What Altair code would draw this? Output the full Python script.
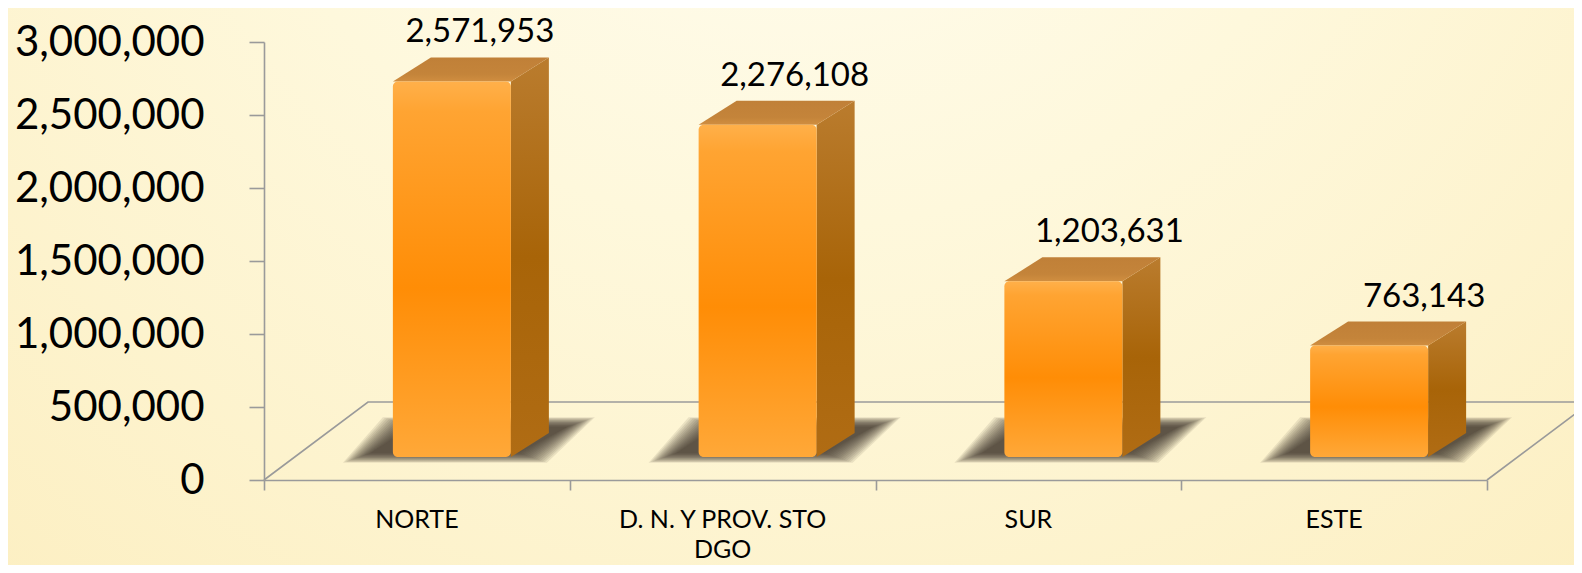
import altair as alt
import pandas as pd

# ---------------- data ----------------
categories = ["NORTE", "D. N. Y PROV. STO\nDGO", "SUR", "ESTE"]
values = [2571953, 2276108, 1203631, 763143]
y_ticks = [0, 500000, 1000000, 1500000, 2000000, 2500000, 3000000]

# ---------------- layout / style constants ----------------
W, H = 1223, 438
YMAX = 3000000
PX_X = W / 4.0
PX_Y = H / YMAX


def ux(px):
    return px / PX_X


def uy(px):
    return px / PX_Y


OFF = ux(35)      # front face centre shift (perspective)
HW = ux(59)       # half width of front face
DX = ux(38)       # bar depth in x
DY = uy(24)       # bar depth in y
BASE = uy(23)     # front face bottom above floor front edge
FLOOR_DX = ux(104)
FLOOR_DY = uy(78)
FONT = "Lato"
AXIS_COLOR = "#9A9A9A"

xs = alt.Scale(domain=[0, 4], nice=False, zero=False)
ys = alt.Scale(domain=[0, YMAX], nice=False)

x_axis = alt.Axis(values=[0, 1, 2, 3, 4], labels=False, tickSize=10, grid=False, title=None,
                  domainColor=AXIS_COLOR, tickColor=AXIS_COLOR, domainWidth=1.6,
                  tickWidth=1.6, zindex=1)
y_axis = alt.Axis(values=y_ticks, format=",d", labelFont=FONT, labelFontSize=42,
                  labelColor="#000000", labelLimit=0, tickSize=15, labelPadding=45,
                  grid=False, title=None,
                  domainColor=AXIS_COLOR, tickColor=AXIS_COLOR, domainWidth=1.6,
                  tickWidth=1.6, zindex=1)

# front faces
front = pd.DataFrame({
    "name": categories,
    "idx": list(range(len(categories))),
    "value": values,
})
front["xc"] = front["idx"] + 0.5 + OFF
front["xl"] = front["xc"] - HW
front["xr"] = front["xc"] + HW
front["y0"] = BASE
front["y1"] = BASE + front["value"]
front["lx"] = front["xc"] + front["idx"].apply(lambda i: ux(28 + 9 * i))
front["ly"] = front["y1"] + DY
front["bx"] = front["idx"] + 0.5

top_rows, side_rows, shadow_rows = [], [], []
BLUR = list(range(28, -1, -2))
for _, r in front.iterrows():
    nm = r["name"]
    top_rows.append(dict(name=nm, yy=r["y1"], xa=r["xl"], xb=r["xr"]))
    top_rows.append(dict(name=nm, yy=r["y1"] + DY, xa=r["xl"] + DX, xb=r["xr"] + DX))
    side_rows.append(dict(name=nm, xx=r["xr"], ya=r["y0"], yb=r["y1"]))
    side_rows.append(dict(name=nm, xx=r["xr"] + DX, ya=r["y0"] + DY, yb=r["y1"] + DY))
    for k, inf in enumerate(BLUR):
        g = f"{r['idx']}-{k}"
        shadow_rows.append(dict(g=g, yy=BASE + uy(4) - uy(inf * 0.35),
                                xa=r["xl"] - ux(22 + inf), xb=r["xr"] + ux(8 + inf)))
        shadow_rows.append(dict(g=g, yy=BASE + uy(30) + uy(inf * 0.35),
                                xa=r["xl"] + ux(18 - inf), xb=r["xr"] + ux(56 + inf)))
top_df = pd.DataFrame(top_rows)
side_df = pd.DataFrame(side_rows)
shadow_df = pd.DataFrame(shadow_rows)

floor_df = pd.DataFrame({
    "fx": [0, FLOOR_DX, 4 + FLOOR_DX, 4],
    "fy": [0, FLOOR_DY, FLOOR_DY, 0],
    "o": [0, 1, 2, 3],
})

# ---------------- layers ----------------
bg = alt.Chart(pd.DataFrame({"a": [0]})).mark_rect(
    fill=alt.RadialGradient(
        gradient="radial", x1=0.5, y1=0.08, x2=0.5, y2=0.08, r1=0, r2=0.85,
        stops=[alt.GradientStop(offset=0, color="#FFFEF7"),
               alt.GradientStop(offset=0.45, color="#FEF8DC"),
               alt.GradientStop(offset=1, color="#FCEEBF")])
).encode(x=alt.value(-256), x2=alt.value(W + 87), y=alt.value(-34), y2=alt.value(H + 85))

floor = alt.Chart(floor_df).mark_line(color=AXIS_COLOR, strokeWidth=1.6).encode(
    x=alt.X("fx:Q", scale=xs, axis=x_axis),
    y=alt.Y("fy:Q", scale=ys, axis=y_axis),
    order="o:Q",
)

shadow = alt.Chart(shadow_df).mark_area(orient="horizontal", color="#38352a", opacity=0.1).encode(
    y=alt.Y("yy:Q", scale=ys, stack=None, axis=y_axis),
    x=alt.X("xa:Q", scale=xs, stack=None, axis=x_axis),
    x2="xb:Q",
    detail="g:N",
)

side = alt.Chart(side_df).mark_area(
    orient="vertical",
    fill=alt.LinearGradient(gradient="linear", x1=0, y1=0, x2=0, y2=1,
                            stops=[alt.GradientStop(offset=0, color="#BA7C2E"),
                                   alt.GradientStop(offset=0.5, color="#A86408"),
                                   alt.GradientStop(offset=1, color="#B06C14")]),
).encode(
    x=alt.X("xx:Q", scale=xs, stack=None, axis=x_axis),
    y=alt.Y("ya:Q", scale=ys, stack=None, axis=y_axis),
    y2="yb:Q",
    detail="name:N",
)

topf = alt.Chart(top_df).mark_area(
    orient="horizontal",
    fill=alt.LinearGradient(gradient="linear", x1=0, y1=1, x2=0, y2=0,
                            stops=[alt.GradientStop(offset=0, color="#D08E40"),
                                   alt.GradientStop(offset=0.3, color="#C4843A"),
                                   alt.GradientStop(offset=1, color="#C08038")]),
).encode(
    y=alt.Y("yy:Q", scale=ys, stack=None, axis=y_axis),
    x=alt.X("xa:Q", scale=xs, stack=None, axis=x_axis),
    x2="xb:Q",
    detail="name:N",
)

front_layer = alt.Chart(front).mark_rect(
    cornerRadius=5,
    fill=alt.LinearGradient(gradient="linear", x1=0, y1=0, x2=0, y2=1,
                            stops=[alt.GradientStop(offset=0, color="#FFB04A"),
                                   alt.GradientStop(offset=0.08, color="#FFA432"),
                                   alt.GradientStop(offset=0.55, color="#FF8D06"),
                                   alt.GradientStop(offset=1, color="#FFA838")]),
).encode(
    x=alt.X("xl:Q", scale=xs, axis=x_axis),
    x2="xr:Q",
    y=alt.Y("y0:Q", scale=ys, axis=y_axis),
    y2="y1:Q",
)

vlabels = alt.Chart(front).mark_text(
    font=FONT, fontSize=33, color="#000000", baseline="middle", align="center", dy=-25
).encode(
    x=alt.X("lx:Q", scale=xs, axis=x_axis),
    y=alt.Y("ly:Q", scale=ys, axis=y_axis),
    text=alt.Text("value:Q", format=",d"),
)

xlabels = alt.Chart(front).mark_text(
    font=FONT, fontSize=25, color="#000000", baseline="alphabetic", align="center",
    lineBreak="\n", lineHeight=30
).encode(
    x=alt.X("bx:Q", scale=xs, axis=x_axis),
    y=alt.value(H + 48),
    text="name:N",
)

chart = alt.layer(bg, floor, shadow, side, topf, front_layer, vlabels, xlabels).properties(
    width=W, height=H,
    autosize=alt.AutoSizeParams(type="none"),
    padding={"left": 256, "top": 34, "right": 87, "bottom": 85},
    background="#FCF1C8",
).configure_view(stroke=None)

chart.save("out.html", embed_options={"renderer": "svg", "actions": False})
